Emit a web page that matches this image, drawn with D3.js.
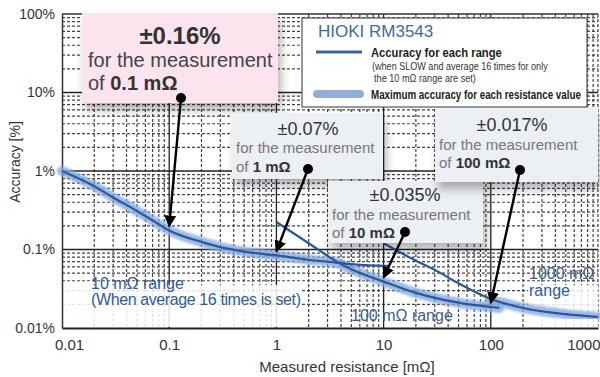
<!DOCTYPE html>
<html>
<head>
<meta charset="utf-8">
<script src="https://cdn.jsdelivr.net/npm/d3@7"></script>
<style>
  body { margin: 0; background: #fff; }
  svg { display: block; font-family: "Liberation Sans", Arial, sans-serif; }
</style>
</head>
<body>
<svg id="canvas" width="600" height="377"></svg>
<script>
// values
var range10R    = [0.01, 0.02, 0.03, 0.05, 0.07, 0.1, 0.2, 0.3, 0.5, 1, 2, 3.6, 5, 10, 11];
var range10Acc  = [1.0, 0.64, 0.46, 0.31, 0.235, 0.175, 0.125, 0.107, 0.094, 0.084, 0.074, 0.068, 0.065, 0.062, 0.062];
var range100R   = [1, 2, 3.6, 5, 10, 20, 50, 100, 120];
var range100Acc = [0.224, 0.12, 0.071, 0.056, 0.039, 0.028, 0.021, 0.0185, 0.018];
var range1000R   = [10, 20, 30, 50, 100, 200, 500, 1000];
var range1000Acc = [0.12, 0.072, 0.055, 0.037, 0.0234, 0.018, 0.015, 0.0138];
// maximum accuracy band (two pieces)
var maxLowR    = [0.01, 0.02, 0.03, 0.05, 0.07, 0.1, 0.2, 0.3, 0.5, 1, 2, 3.6, 5, 10, 20, 50, 100, 120];
var maxLowAcc  = [1.0, 0.64, 0.46, 0.31, 0.235, 0.175, 0.125, 0.107, 0.094, 0.084, 0.074, 0.068, 0.056, 0.039, 0.028, 0.021, 0.0185, 0.018];
var maxHighR   = [100, 200, 500, 1000];
var maxHighAcc = [0.0234, 0.018, 0.015, 0.0138];

var xTicks = [0.01, 0.1, 1, 10, 100, 1000];
var xLabels = ["0.01", "0.1", "1", "10", "100", "1000"];
var yTicks = [0.01, 0.1, 1, 10, 100];
var yLabels = ["0.01%", "0.1%", "1%", "10%", "100%"];

var notes = [
  {pct: "±0.16%", of: "0.1 mΩ", R: 0.1, acc: 0.175},
  {pct: "±0.07%", of: "1 mΩ", R: 1, acc: 0.084},
  {pct: "±0.035%", of: "10 mΩ", R: 10, acc: 0.039},
  {pct: "±0.017%", of: "100 mΩ", R: 100, acc: 0.0185}
];

var canvas = d3.select("#canvas");
var plotL = 62, plotR = 598, plotT = 14, plotB = 328;

var x = d3.scaleLog().domain([0.01, 1000]).range([plotL, plotR]);
var y = d3.scaleLog().domain([0.01, 100]).range([plotB, plotT]);

var defs = canvas.append("defs");
defs.append("marker")
    .attr("id", "arrow")
    .attr("viewBox", "0 0 10 10")
    .attr("refX", 9).attr("refY", 5)
    .attr("markerWidth", 5).attr("markerHeight", 5)
    .attr("markerUnits", "strokeWidth")
    .attr("orient", "auto")
  .append("path")
    .attr("d", "M0,0 L10,5 L0,10 z")
    .style("fill", "#000");
defs.append("filter").attr("id", "shadow")
    .attr("x", "-10%").attr("y", "-10%").attr("width", "130%").attr("height", "150%")
  .append("feDropShadow")
    .attr("dx", 3).attr("dy", 7).attr("stdDeviation", 5)
    .attr("flood-color", "#000").attr("flood-opacity", 0.3);
defs.append("filter").attr("id", "soft")
  .append("feGaussianBlur").attr("stdDeviation", 1.1);

// grid
function isDecade(t){ return Math.abs(Math.log10(t) - Math.round(Math.log10(t))) < 1e-6; }
var minor = x.ticks().filter(function(t){ return !isDecade(t); });
var minorY = y.ticks().filter(function(t){ return !isDecade(t); });

canvas.append("g").selectAll("line").data(minor).enter().append("line")
    .attr("x1", function(d){ return x(d); }).attr("x2", function(d){ return x(d); })
    .attr("y1", plotT).attr("y2", plotB)
    .style("stroke", "#444").style("stroke-width", 1.2).style("stroke-dasharray", "3,2");
canvas.append("g").selectAll("line").data(minorY).enter().append("line")
    .attr("y1", function(d){ return y(d); }).attr("y2", function(d){ return y(d); })
    .attr("x1", plotL).attr("x2", plotR)
    .style("stroke", "#444").style("stroke-width", 1.2).style("stroke-dasharray", "3,2");
canvas.append("g").selectAll("line").data(xTicks.slice(1, 5)).enter().append("line")
    .attr("x1", function(d){ return x(d); }).attr("x2", function(d){ return x(d); })
    .attr("y1", plotT).attr("y2", plotB)
    .style("stroke", "#222").style("stroke-width", 1.3);
canvas.append("g").selectAll("line").data(yTicks.slice(1, 4)).enter().append("line")
    .attr("y1", function(d){ return y(d); }).attr("y2", function(d){ return y(d); })
    .attr("x1", plotL).attr("x2", plotR)
    .style("stroke", "#222").style("stroke-width", 1.3);

// frame
canvas.append("line").attr("x1", plotL).attr("x2", plotR).attr("y1", plotT).attr("y2", plotT)
    .style("stroke", "#333").style("stroke-width", 1.3);
canvas.append("line").attr("x1", plotR).attr("x2", plotR).attr("y1", plotT).attr("y2", plotB)
    .style("stroke", "#444").style("stroke-width", 1.2).style("stroke-dasharray", "3,2");

// white patches behind range labels
canvas.append("rect").attr("x", plotL + 1).attr("y", 285).attr("width", 238).attr("height", plotB - 286)
    .style("fill", "#fff").style("opacity", 0.85);
canvas.append("rect").attr("x", 528).attr("y", 285).attr("width", 70).attr("height", plotB - 286)
    .style("fill", "#fff").style("opacity", 0.85);

// axes
var yAxis = d3.axisLeft(y).tickValues(yTicks).tickSize(0).tickPadding(7)
    .tickFormat(function(d, i){ return yLabels[i]; });
var gy = canvas.append("g").attr("transform", "translate(" + plotL + ",0)").call(yAxis);
gy.select(".domain").style("stroke", "#333").style("stroke-width", 1.5);
gy.selectAll("text").style("font-size", "14px").style("fill", "#333").style("font-family", "Liberation Sans, Arial, sans-serif");

var xAxis = d3.axisBottom(x).tickValues(xTicks).tickSize(0).tickPadding(11)
    .tickFormat(function(d, i){ return xLabels[i]; });
var gx = canvas.append("g").attr("transform", "translate(0," + plotB + ")").call(xAxis);
gx.select(".domain").style("stroke", "#222").style("stroke-width", 2);
gx.selectAll("text").style("font-size", "15px").style("fill", "#333").style("font-family", "Liberation Sans, Arial, sans-serif");
gx.selectAll(".tick text").filter(function(d){ return d === 0.01; }).attr("dx", 7);
gx.selectAll(".tick text").filter(function(d){ return d === 1000; }).attr("text-anchor", "end").attr("dx", 2);

canvas.append("text").attr("transform", "translate(20," + 162 + ") rotate(-90)")
    .attr("text-anchor", "middle").style("font-size", "14px").style("fill", "#333")
    .text("Accuracy [%]");
canvas.append("text").attr("x", 347).attr("y", 372)
    .attr("text-anchor", "middle").style("font-size", "15px").style("fill", "#333")
    .text("Measured resistance [mΩ]");

// curves
var line = d3.line()
    .x(function(d){ return x(d[0]); })
    .y(function(d){ return y(d[1]); })
    .curve(d3.curveMonotoneX);
function pairs(a, b){ return a.map(function(v, i){ return [v, b[i]]; }); }

[pairs(maxLowR, maxLowAcc), pairs(maxHighR, maxHighAcc)].forEach(function(p){
    canvas.append("path").attr("d", line(p))
        .style("fill", "none").style("stroke", "#86a9e2").style("stroke-width", 10)
        .style("stroke-linecap", "round").style("opacity", 0.8)
        .attr("filter", "url(#soft)");
});
[pairs(range10R, range10Acc), pairs(range100R, range100Acc), pairs(range1000R, range1000Acc)].forEach(function(p){
    canvas.append("path").attr("d", line(p))
        .style("fill", "none").style("stroke", "#2b5898").style("stroke-width", 2.2);
});

// range labels
var blue = "#2f5b99";
canvas.append("text").attr("x", 91).attr("y", 289).style("font-size", "16px").style("fill", blue).text("10 mΩ range");
canvas.append("text").attr("x", 91).attr("y", 305).style("font-size", "16px").style("fill", blue)
    .attr("textLength", 210).text("(When average 16 times is set)");
canvas.append("text").attr("x", 351).attr("y", 321).style("font-size", "16px").style("fill", "#3d5d8c").text("100 mΩ range");
canvas.append("text").attr("x", 529).attr("y", 279).style("font-size", "16px").style("fill", "#3d5d8c").text("1000 mΩ");
canvas.append("text").attr("x", 529).attr("y", 296).style("font-size", "16px").style("fill", blue).text("range");

// annotation boxes
var boxes = [
  {x: 82, y: 13, w: 196, h: 90, fill: "#fbe4ee", big: 24, small: 20, c1: 180, b1: 44, b2: 67, b3: 90, dot: [181, 98], bold: true},
  {x: 232, y: 113, w: 151, h: 66, fill: "#eceff4", big: 18, small: 15, c1: 308, b1: 135, b2: 153, b3: 172, dot: [308, 169]},
  {x: 328, y: 181, w: 155, h: 62, fill: "#eceff4", big: 18, small: 15, c1: 405, b1: 201, b2: 220, b3: 238, dot: [405, 232]},
  {x: 435, y: 107, w: 163, h: 75, fill: "#eceff4", big: 18, small: 15, c1: 512, b1: 131, b2: 150, b3: 168, dot: [520, 170]}
];

boxes.forEach(function(b, i){
    var n = notes[i];
    canvas.append("rect").attr("x", b.x).attr("y", b.y).attr("width", b.w).attr("height", b.h)
        .style("fill", b.fill).attr("filter", "url(#shadow)");
    canvas.append("text").attr("x", b.c1).attr("y", b.b1).attr("text-anchor", "middle")
        .style("font-size", b.big + "px").style("font-weight", b.bold ? "bold" : "normal")
        .style("fill", "#333").text(n.pct);
    canvas.append("text").attr("x", b.x + (b.bold ? 6 : 4)).attr("y", b.b2)
        .style("font-size", b.small + "px").style("fill", b.bold ? "#444" : "#777")
        .text("for the measurement");
    var t = canvas.append("text").attr("x", b.x + (b.bold ? 6 : 4)).attr("y", b.b3)
        .style("font-size", b.small + "px").style("fill", b.bold ? "#444" : "#777");
    t.append("tspan").text("of ");
    t.append("tspan").style("font-weight", "bold").style("fill", "#333").text(n.of);
});

// arrows from dots to the curve
boxes.forEach(function(b, i){
    var n = notes[i];
    var tx = x(n.R), ty = y(n.acc) - 4;
    canvas.append("line")
        .attr("x1", b.dot[0]).attr("y1", b.dot[1]).attr("x2", tx).attr("y2", ty)
        .style("stroke", "#000").style("stroke-width", 2.4)
        .attr("marker-end", "url(#arrow)");
    canvas.append("circle").attr("cx", b.dot[0]).attr("cy", b.dot[1]).attr("r", 5).style("fill", "#000");
});

// legend
var lg = canvas.append("g");
lg.append("rect").attr("x", 302).attr("y", 18).attr("width", 285).attr("height", 89)
    .style("fill", "#fff").style("stroke", "#555").style("stroke-width", 1.2);
lg.append("text").attr("x", 318).attr("y", 37).style("font-size", "17px").style("fill", "#3b6aa8")
    .text("HIOKI RM3543");
lg.append("line").attr("x1", 316).attr("x2", 362).attr("y1", 52).attr("y2", 52)
    .style("stroke", "#3a64a0").style("stroke-width", 3);
lg.append("line").attr("x1", 317).attr("x2", 360).attr("y1", 94).attr("y2", 94)
    .style("stroke", "#93acd9").style("stroke-width", 8).style("stroke-linecap", "round");

// condensed legend text: squeeze each line horizontally to the width seen in the picture
function narrowText(tx, ty, size, bold, width, str){
    var g = lg.append("g");
    var t = g.append("text").attr("x", 0).attr("y", 0)
        .style("font-size", size + "px").style("font-weight", bold ? "bold" : "normal")
        .style("fill", bold ? "#222" : "#333").text(str);
    var len = t.node().getComputedTextLength();
    g.attr("transform", "translate(" + tx + "," + ty + ") scale(" + (width / len) + ",1)");
}
narrowText(371, 57, 13, true, 131, "Accuracy for each range");
narrowText(372, 70, 10, false, 176, "(when SLOW and average 16 times for only");
narrowText(374, 82, 10, false, 102, "the 10 mΩ range are set)");
narrowText(371, 99, 13, true, 210, "Maximum accuracy for each resistance value");
</script>
</body>
</html>
